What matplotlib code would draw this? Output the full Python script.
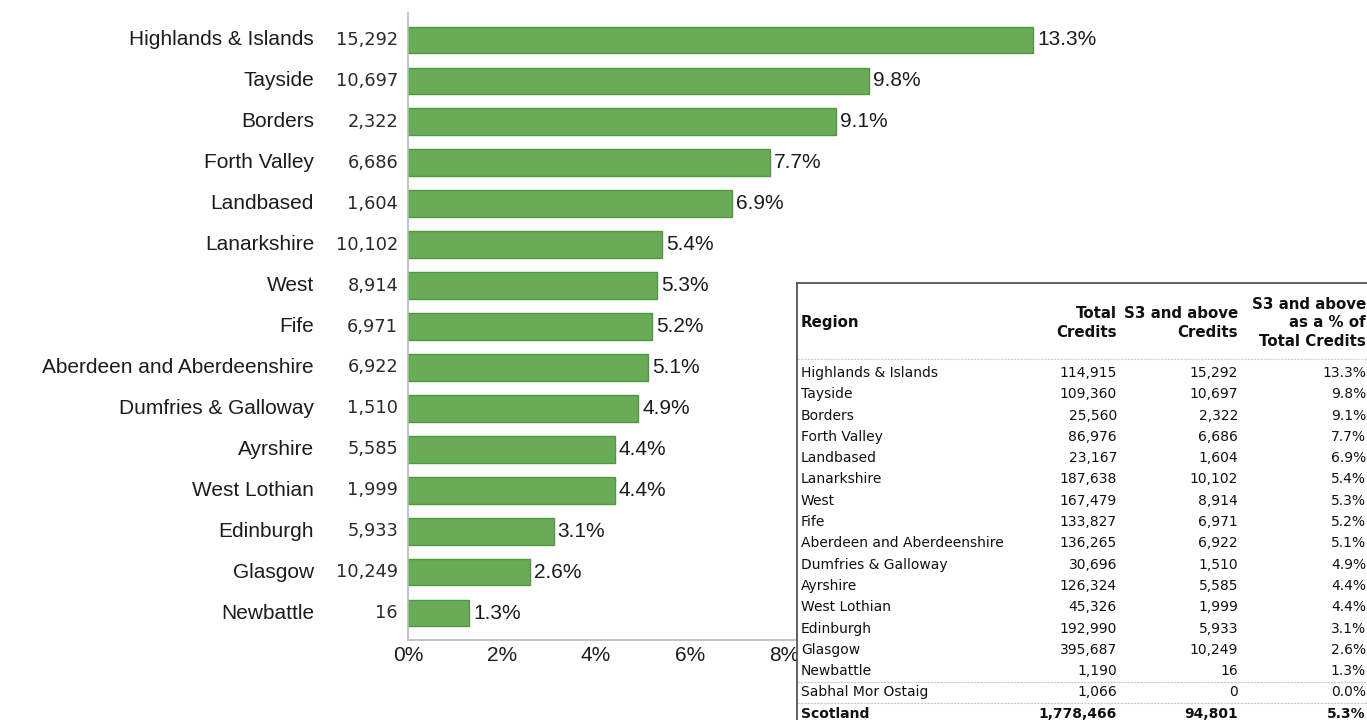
import matplotlib.pyplot as plt

# S3 and above credits by region
regions = ["Highlands & Islands", "Tayside", "Borders", "Forth Valley", "Landbased",
           "Lanarkshire", "West", "Fife", "Aberdeen and Aberdeenshire",
           "Dumfries & Galloway", "Ayrshire", "West Lothian", "Edinburgh",
           "Glasgow", "Newbattle", "Sabhal Mor Ostaig"]
total_credits = [114915, 109360, 25560, 86976, 23167, 187638, 167479, 133827,
                 136265, 30696, 126324, 45326, 192990, 395687, 1190, 1066]
s3_credits = [15292, 10697, 2322, 6686, 1604, 10102, 8914, 6971,
              6922, 1510, 5585, 1999, 5933, 10249, 16, 0]
s3_pct = [13.3, 9.8, 9.1, 7.7, 6.9, 5.4, 5.3, 5.2, 5.1, 4.9, 4.4, 4.4, 3.1, 2.6, 1.3, 0.0]
scotland = ("Scotland", 1778466, 94801, 5.3)
x_ticks = [0, 2, 4, 6, 8]

# chart shows every region except Sabhal Mor Ostaig
n_bars = 15
bar_names = regions[:n_bars]
bar_credits = s3_credits[:n_bars]
bar_pct = s3_pct[:n_bars]

fig = plt.figure(figsize=(13.67, 7.2), dpi=100)
ax = fig.add_axes([408 / 1367, 80 / 720, 658 / 1367, 627 / 720])

ypos = list(range(n_bars))
ax.barh(ypos, bar_pct, height=0.64, color="#6aab58", edgecolor="#4f9a3d", linewidth=1)
ax.set_ylim(n_bars - 1 + 0.65, -0.65)
ax.set_xlim(0, 14)

arial = "Liberation Sans"
ax.set_yticks(ypos)
ax.set_yticklabels([])
ax.tick_params(axis="y", length=0)
for y, name, cr, p in zip(ypos, bar_names, bar_credits, bar_pct):
    ax.annotate(name, xy=(0, y), xytext=(-94, 0), textcoords="offset pixels",
                ha="right", va="center", fontsize=15, family=arial, color="#1c1c1c")
    ax.annotate(f"{cr:,}", xy=(0, y), xytext=(-10, 0), textcoords="offset pixels",
                ha="right", va="center", fontsize=12.8, family="DejaVu Sans", color="#2a2a2a")
    ax.annotate(f"{p:.1f}%", xy=(p, y), xytext=(4, 0), textcoords="offset pixels",
                ha="left", va="center", fontsize=15, family=arial, color="#1c1c1c")

ax.set_xticks(x_ticks)
ax.set_xticklabels([f"{t}%" for t in x_ticks], fontsize=15, family=arial, color="#1c1c1c")
ax.tick_params(axis="x", length=0, pad=4)
for side in ["top", "right"]:
    ax.spines[side].set_visible(False)
for side in ["left", "bottom"]:
    ax.spines[side].set_color("#b8b8c0")
    ax.spines[side].set_linewidth(1.2)

# summary table pasted over the lower right of the chart
tax = fig.add_axes([797 / 1367, -0.05, 0.45, (720 - 283) / 720 + 0.05])
tax.set_xlim(797, 797 + 0.45 * 1367)
tax.set_ylim(720 + 0.05 * 720, 283)
tax.set_facecolor("white")
tax.set_xticks([])
tax.set_yticks([])
for side in ["right", "bottom"]:
    tax.spines[side].set_visible(False)
for side in ["top", "left"]:
    tax.spines[side].set_color("#555555")
    tax.spines[side].set_linewidth(1.3)

tfont = dict(family="DejaVu Sans", fontsize=10, color="#111111")
hfont = dict(family="DejaVu Sans", fontsize=10.8, color="#111111", fontweight="bold",
             linespacing=1.3)
col_r = [1117, 1238, 1366]
tax.text(801, 323, "Region", ha="left", va="center", **hfont)
tax.text(col_r[0], 323, "Total\nCredits", ha="right", va="center", **hfont)
tax.text(col_r[1], 323, "S3 and above\nCredits", ha="right", va="center", **hfont)
tax.text(col_r[2], 323, "S3 and above\nas a % of\nTotal Credits", ha="right", va="center",
         **hfont)
tax.axhline(359, color="#cfcfcf", linewidth=0.8, linestyle=(0, (2, 1)))

row_h = 21.3
rows = list(zip(regions, total_credits, s3_credits, s3_pct)) + [scotland]
for i, (name, tot, s3, p) in enumerate(rows):
    y = 373 + i * row_h
    weight = "bold" if name == "Scotland" else "normal"
    tax.text(801, y, name, ha="left", va="center", fontweight=weight, **tfont)
    tax.text(col_r[0], y, f"{tot:,}", ha="right", va="center", fontweight=weight, **tfont)
    tax.text(col_r[1], y, f"{s3:,}", ha="right", va="center", fontweight=weight, **tfont)
    tax.text(col_r[2], y, f"{p:.1f}%", ha="right", va="center", fontweight=weight, **tfont)
for i in (15, 16):
    tax.axhline(373 + (i - 0.5) * row_h, color="#c8c8c8", linewidth=0.8,
                linestyle=(0, (2, 1)))

fig.savefig("out.png", dpi=100, facecolor="white")
